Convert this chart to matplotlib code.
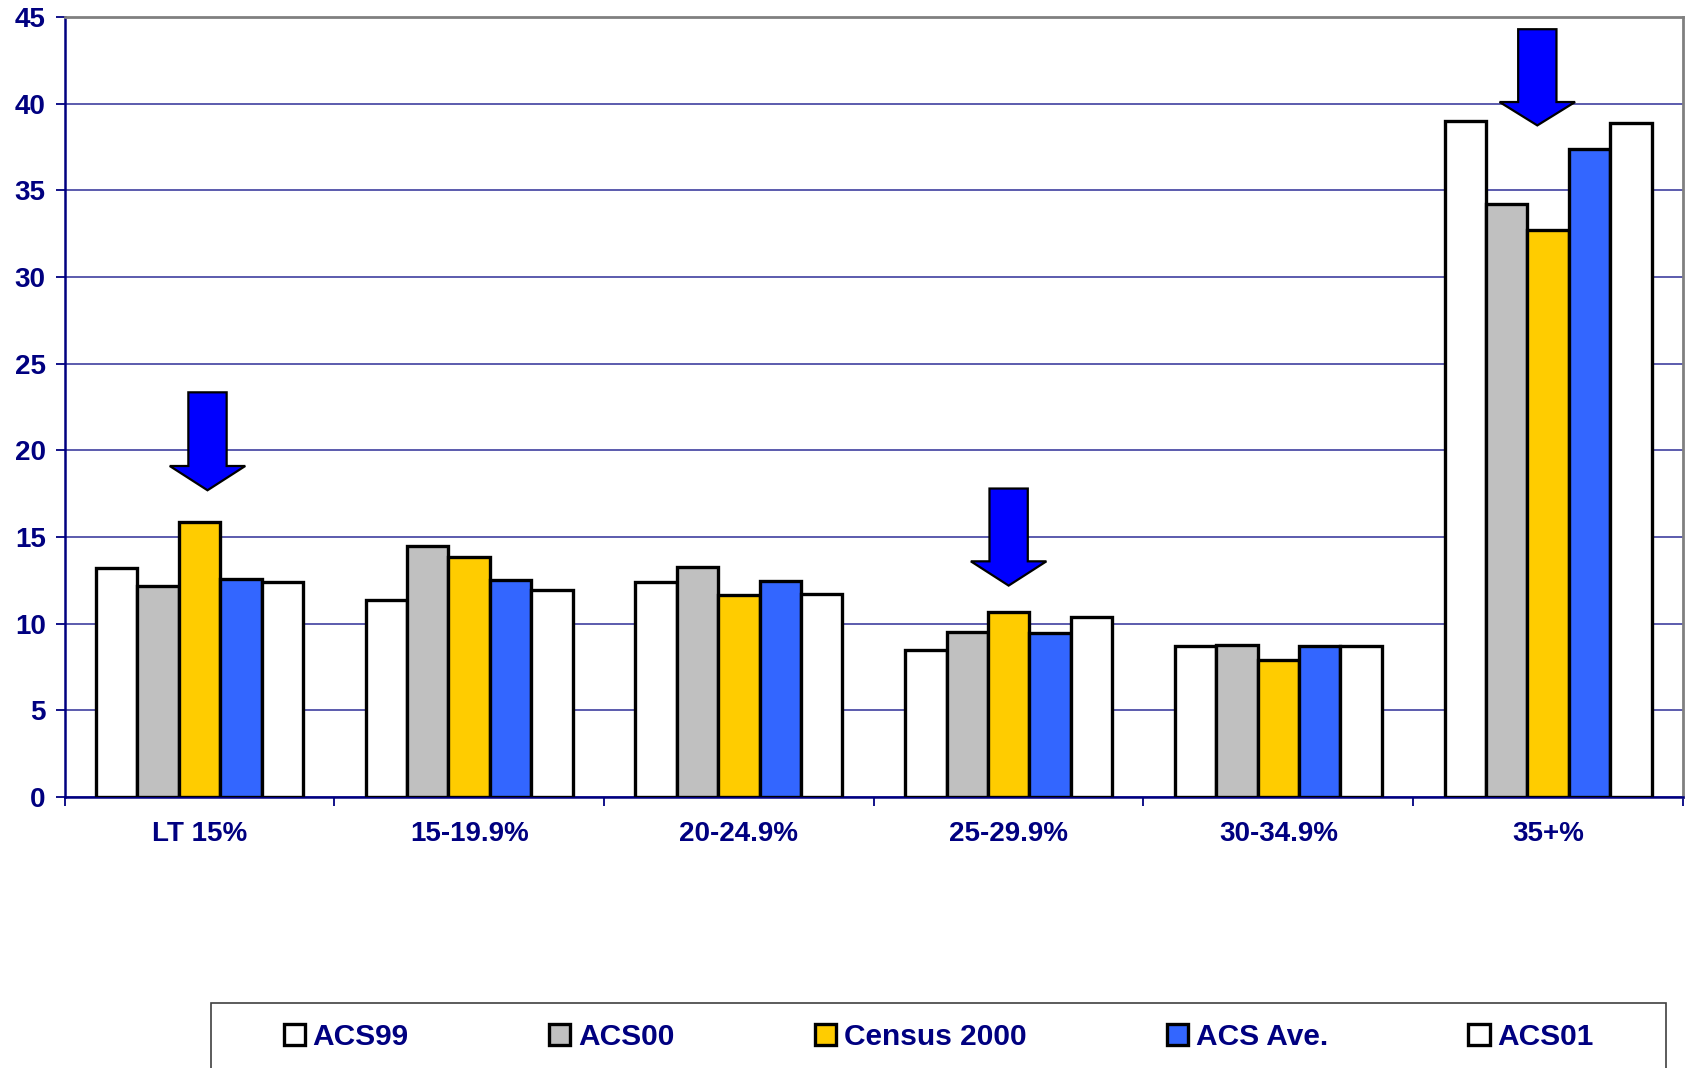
"""Bar chart: ACS vs Census 2000 distribution by category, with highlight arrows."""

import matplotlib
matplotlib.use("Agg")
import matplotlib.pyplot as plt
from matplotlib.patches import Polygon, Rectangle
import numpy as np

# ---------------------------------------------------------------------------
# Data
# ---------------------------------------------------------------------------
CATEGORIES = ["LT 15%", "15-19.9%", "20-24.9%", "25-29.9%", "30-34.9%", "35+%"]
SERIES = ["ACS99", "ACS00", "Census 2000", "ACS Ave.", "ACS01"]

ACS99 = [13.2, 11.35, 12.4, 8.5, 8.7, 39.0]
ACS00 = [12.15, 14.5, 13.25, 9.55, 8.75, 34.2]
CENSUS = [15.85, 13.85, 11.65, 10.65, 7.9, 32.7]
ACS_AVE = [12.6, 12.55, 12.45, 9.45, 8.7, 37.4]
ACS01 = [12.4, 11.95, 11.7, 10.4, 8.7, 38.9]

# arrows: x (category units), shaft top, head base, tip (data units)
ARROW_X = [0.03, 3.0, 4.96]
ARROW_TOP = [23.35, 17.8, 44.3]
ARROW_BASE = [19.1, 13.6, 40.1]
ARROW_TIP = [17.7, 12.2, 38.75]

COLORS = ["#FFFFFF", "#C0C0C0", "#FFCC00", "#3366FF", "#FFFFFF"]
NAVY = "#000080"
FONT = ["Liberation Sans", "Arial", "DejaVu Sans"]

plt.rcParams["font.family"] = FONT
plt.rcParams["font.weight"] = "bold"

fig = plt.figure(figsize=(16.85, 10.68), dpi=100)
ax = fig.add_axes([0.0383, 0.2537, 0.9605, 0.7303])

x = np.arange(len(CATEGORIES))
width = 0.1535
values = [ACS99, ACS00, CENSUS, ACS_AVE, ACS01]
for i, (name, vals, col) in enumerate(zip(SERIES, values, COLORS)):
    ax.bar(x + (i - 2) * width, vals, width, color=col, edgecolor="black",
           linewidth=2.4, label=name, zorder=3)

# highlight arrows
shaft = 0.071
head = 0.14
for ax_x, top, base, tip in zip(ARROW_X, ARROW_TOP, ARROW_BASE, ARROW_TIP):
    pts = [(ax_x - shaft, top), (ax_x + shaft, top), (ax_x + shaft, base),
           (ax_x + head, base), (ax_x, tip), (ax_x - head, base),
           (ax_x - shaft, base)]
    ax.add_patch(Polygon(pts, closed=True, facecolor="#0000FF",
                         edgecolor="black", linewidth=1.6, zorder=5))

ax.set_xlim(-0.5, 5.5)
ax.set_ylim(0, 45)
ax.set_yticks(range(0, 46, 5))
ax.grid(axis="y", color="#4040a0", linewidth=1.2, zorder=0)

ax.set_xticks(np.arange(-0.5, 6, 1))
ax.set_xticklabels([])
ax.set_xticks(x, minor=True)
ax.set_xticklabels(CATEGORIES, minor=True)
ax.tick_params(axis="x", which="major", direction="out", length=6.5,
               width=1.3, color=NAVY)
ax.tick_params(axis="x", which="minor", length=0, pad=17,
               labelsize=20, labelcolor=NAVY)
ax.tick_params(axis="y", direction="out", length=6.5, width=1.3,
               color=NAVY, pad=7, labelsize=20, labelcolor=NAVY)

for side in ("left", "bottom"):
    ax.spines[side].set_color(NAVY)
    ax.spines[side].set_linewidth(1.8)
for side in ("top", "right"):
    ax.spines[side].set_color("#808080")
    ax.spines[side].set_linewidth(2)

# legend box runs off the bottom edge
fig.patches.append(Rectangle((0.1252, -0.2), 0.8635, 0.2609,
                             transform=fig.transFigure, facecolor="none",
                             edgecolor="#404040", linewidth=1.2))
leg = fig.legend(loc="center", bbox_to_anchor=(0.557, 0.029), ncol=5,
                 frameon=False, fontsize=21.5, handlelength=0.72,
                 handleheight=0.72, handletextpad=0.25, columnspacing=4.7)
for t in leg.get_texts():
    t.set_color(NAVY)

fig.savefig("out.png", dpi=100)
